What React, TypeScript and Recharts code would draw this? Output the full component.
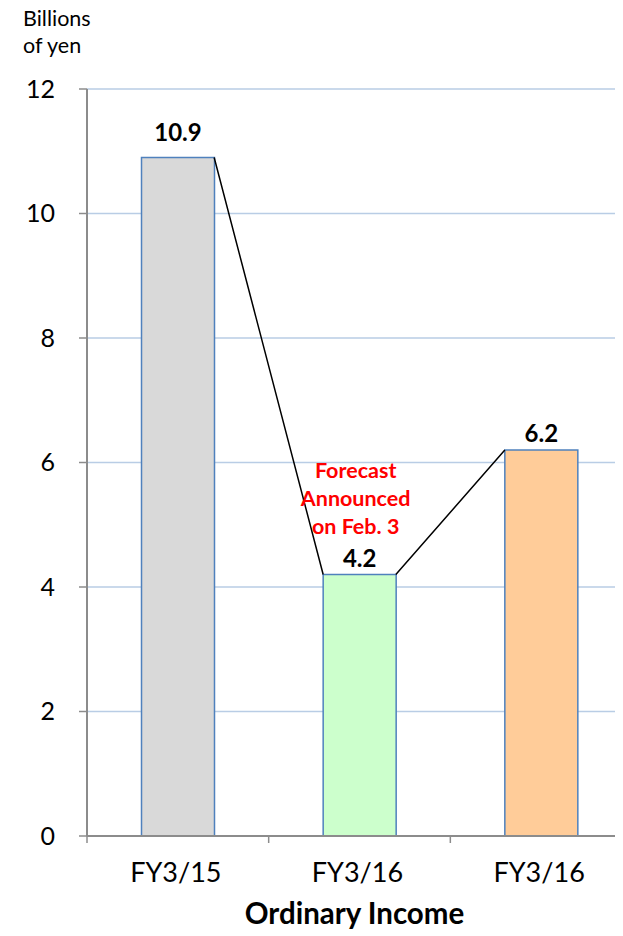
import React from 'react';
import {
  ComposedChart,
  Bar,
  Line,
  XAxis,
  YAxis,
  CartesianGrid,
  LabelList,
  Cell,
} from 'recharts';

// Ordinary income, billions of yen
const categories = ['FY3/15', 'FY3/16', 'FY3/16'];
const values = [10.9, 4.2, 6.2];
const barColors = ['#D9D9D9', '#CCFFCC', '#FFCC99'];
const yTicks = [0, 2, 4, 6, 8, 10, 12];
const forecastNote = ['Forecast', 'Announced', 'on Feb. 3'];
const forecastIndex = 1;
const unitLines = ['Billions', 'of yen'];

const FONT = 'Lato, "Open Sans", sans-serif';
const AXIS_GRAY = '#8C8C8C';
const BAR_FRACTION = 0.4; // share of each category band taken by its bar

const chartData = categories.map((name, i) => ({ name, value: values[i] }));

// Connector segments from each bar's top-right corner to the next bar's top-left corner,
// expressed in category units on a 0..n numeric axis; a null breaks the line between pairs.
const connectorData: { pos: number; value: number | null }[] = [];
for (let i = 0; i < values.length - 1; i++) {
  connectorData.push({ pos: i + 0.5 + BAR_FRACTION / 2, value: values[i] });
  connectorData.push({ pos: i + 1.5 - BAR_FRACTION / 2, value: values[i + 1] });
  connectorData.push({ pos: i + 1.5, value: null });
}

const positionTicks: number[] = [];
for (let i = 0; i <= categories.length; i++) {
  positionTicks.push(i);
  if (i < categories.length) positionTicks.push(i + 0.5);
}

// Bottom axis: tick marks on band boundaries, category names at band centres.
const BottomTick = (props: any) => {
  const { x, y, payload } = props;
  const v = payload.value as number;
  if (Number.isInteger(v)) {
    return <line x1={x} y1={y} x2={x} y2={y + 7} stroke={AXIS_GRAY} strokeWidth={1.5} />;
  }
  return (
    <text x={x - 2} y={y + 46} textAnchor="middle" fontSize={27} fontFamily={FONT} fill="#000">
      {categories[Math.floor(v)]}
    </text>
  );
};

const labelLift = [16, 8, 8];

const ValueLabel = (props: any) => {
  const { x, y, width, index, value } = props;
  const cx = x + width / 2;
  return (
    <g>
      <text
        x={cx}
        y={y - labelLift[index]}
        textAnchor="middle"
        fontSize={24}
        fontWeight="bold"
        fontFamily={FONT}
        fill="#000"
      >
        {value}
      </text>
      {index === forecastIndex && (
        <text textAnchor="middle" fontSize={21.5} fontWeight="bold" fontFamily={FONT} fill="#FF0000">
          {forecastNote.map((line, k) => (
            <tspan key={k} x={cx - 4} y={y - 97 + k * 28}>
              {line}
            </tspan>
          ))}
        </text>
      )}
    </g>
  );
};

const UnitLabel = (props: any) => {
  const { viewBox } = props;
  const x = viewBox.x + 15;
  const top = viewBox.y;
  return (
    <g>
      {unitLines.map((line, k) => (
        <text key={k} x={x} y={top - 63 + k * 27} fontSize={21.5} fontFamily={FONT} fill="#000">
          {line}
        </text>
      ))}
    </g>
  );
};

export default function App() {
  return (
    <div style={{ width: 615, height: 925, overflow: 'hidden', fontFamily: FONT }}>
      <ComposedChart
        width={640}
        height={925}
        data={chartData}
        margin={{ top: 81, right: 16, bottom: 5, left: 0 }}
        barCategoryGap={`${((1 - BAR_FRACTION) / 2) * 100}%`}
      >
        <CartesianGrid vertical={false} stroke="#B9CDE5" strokeWidth={1.5} xAxisId="pos" />
        <XAxis xAxisId="cat" dataKey="name" type="category" hide height={0} />
        <XAxis
          xAxisId="pos"
          dataKey="pos"
          type="number"
          domain={[0, categories.length]}
          ticks={positionTicks}
          interval={0}
          allowDataOverflow
          height={92}
          tickSize={0}
          tickMargin={0}
          tickLine={false}
          axisLine={{ stroke: AXIS_GRAY, strokeWidth: 2 }}
          tick={<BottomTick />}
          label={{
            value: 'Ordinary Income',
            position: 'insideBottom',
            offset: 4,
            dx: -5,
            fontSize: 29.5,
            fontWeight: 'bold',
            fontFamily: FONT,
            fill: '#000',
          }}
        />
        <YAxis
          width={79}
          domain={[0, 12]}
          ticks={yTicks}
          interval={0}
          tickSize={8}
          tickMargin={24}
          axisLine={{ stroke: AXIS_GRAY, strokeWidth: 2 }}
          tickLine={{ stroke: AXIS_GRAY, strokeWidth: 1.5 }}
          tick={{ fontSize: 25, fill: '#000', fontFamily: FONT }}
          label={<UnitLabel />}
        />
        <Bar
          xAxisId="cat"
          dataKey="value"
          stroke="#4F81BD"
          strokeWidth={1.5}
          isAnimationActive={false}
        >
          {chartData.map((_, i) => (
            <Cell key={i} fill={barColors[i]} />
          ))}
          <LabelList dataKey="value" content={<ValueLabel />} />
        </Bar>
        <Line
          xAxisId="pos"
          data={connectorData}
          dataKey="value"
          stroke="#000"
          strokeWidth={1.5}
          dot={false}
          activeDot={false}
          connectNulls={false}
          isAnimationActive={false}
        />
      </ComposedChart>
    </div>
  );
}
